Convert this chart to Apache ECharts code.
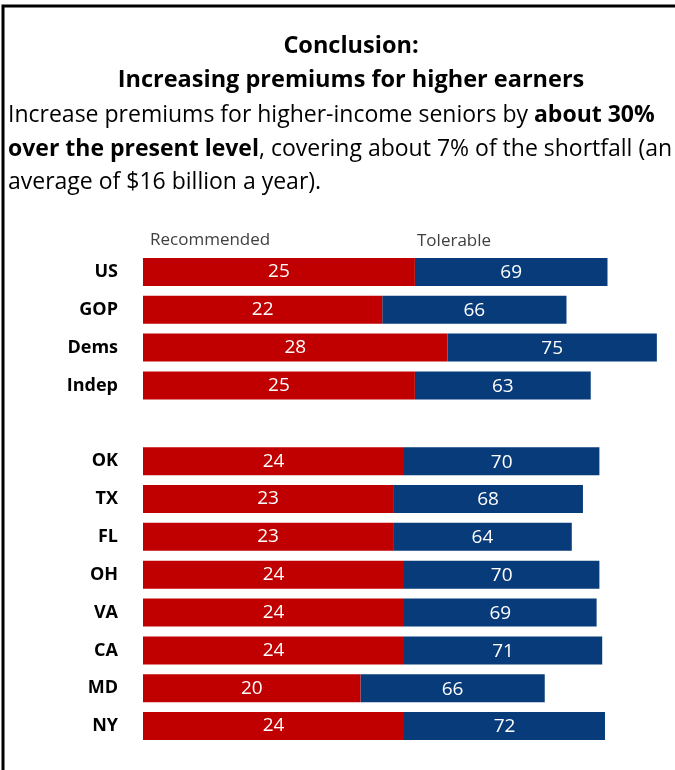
<!DOCTYPE html>
<html>
<head>
<meta charset="utf-8">
<script src="https://cdn.jsdelivr.net/npm/echarts@6/dist/echarts.min.js"></script>
<style>
  html, body { margin: 0; padding: 0; background: #fff; }
  #chart { width: 675px; height: 770px; }
</style>
</head>
<body>
<div id="chart"></div>
<script>
// Groups (blank entry separates national groups from states)
const groups = ['US', 'GOP', 'Dems', 'Indep', '', 'OK', 'TX', 'FL', 'OH', 'VA', 'CA', 'MD', 'NY'];
const recommended = [25, 22, 28, 25, null, 24, 23, 23, 24, 24, 24, 20, 24];
const tolerable   = [69, 66, 75, 63, null, 70, 68, 64, 70, 69, 71, 66, 72];

const RED = '#C00000';
const BLUE = '#073B7A';
const FONT = '"Open Sans", "Noto Sans", sans-serif';
const BAR_H = 28;

const chart = echarts.init(document.getElementById('chart'), null, { renderer: 'canvas' });

// Blue segments start where the red bar ends (xAxis 0) and run for the
// tolerable value measured on their own axis (xAxis 1).
const blueData = [];
groups.forEach((g, i) => {
  if (tolerable[i] != null) blueData.push([tolerable[i], i, recommended[i]]);
});

function renderTolerable(params, api) {
  const tol = api.value(0);
  const cat = api.value(1);
  const rec = api.value(2);
  const cy = api.coord([0, cat])[1];
  const x0 = chart.convertToPixel({ xAxisIndex: 0 }, rec);
  const len = api.size([tol, 0])[0];
  return {
    type: 'group',
    children: [
      {
        type: 'rect',
        shape: { x: x0, y: cy - BAR_H / 2, width: len, height: BAR_H },
        style: { fill: BLUE }
      },
      {
        type: 'text',
        style: {
          text: String(tol),
          x: x0 + len / 2,
          y: cy + 1,
          align: 'center',
          verticalAlign: 'middle',
          fill: '#fff',
          font: '19px ' + FONT
        }
      }
    ]
  };
}

const option = {
  animation: false,
  backgroundColor: '#fff',
  grid: { left: 143, right: 10, top: 253, height: 492, containLabel: false },
  xAxis: [
    { type: 'value', min: 0, max: 48, show: false },
    { type: 'value', min: 0, max: 187, show: false }
  ],
  yAxis: {
    type: 'category',
    data: groups,
    inverse: true,
    axisLine: { show: false },
    axisTick: { show: false },
    axisLabel: {
      margin: 25,
      color: '#000',
      fontFamily: FONT,
      fontWeight: 'bold',
      fontSize: 18
    }
  },
  series: [
    {
      type: 'bar',
      xAxisIndex: 0,
      data: recommended,
      barWidth: BAR_H,
      itemStyle: { color: RED },
      label: {
        show: true,
        position: 'inside',
        color: '#fff',
        fontFamily: FONT,
        fontSize: 19
      }
    },
    {
      type: 'custom',
      xAxisIndex: 1,
      yAxisIndex: 0,
      data: blueData,
      renderItem: renderTolerable,
      encode: { x: 0, y: 1 }
    }
  ],
  graphic: [
    {
      type: 'polyline',
      shape: { points: [[3, 770], [3, 6], [675, 6]] },
      style: { stroke: '#000', lineWidth: 3, fill: null }
    },
    {
      type: 'text',
      style: { text: 'Conclusion:', x: 351, y: 46, align: 'center', verticalAlign: 'middle',
               font: 'bold 23.5px ' + FONT, fill: '#000' }
    },
    {
      type: 'text',
      style: { text: 'Increasing premiums for higher earners', x: 351, y: 80, align: 'center',
               verticalAlign: 'middle', font: 'bold 23.5px ' + FONT, fill: '#000' }
    },
    {
      type: 'text', left: 8, top: 99,
      style: {
        text: 'Increase premiums for higher-income seniors by {b|about 30%}\n{b|over the present level}, covering about 7% of the shortfall (an\naverage of $16 billion a year).',
        font: '23px ' + FONT,
        lineHeight: 33.5,
        fill: '#000',
        rich: { b: { fontWeight: 'bold', fontSize: 23, fontFamily: FONT } }
      }
    },
    {
      type: 'text', left: 150, top: 232,
      style: { text: 'Recommended', font: '17px ' + FONT, fill: '#404040' }
    },
    {
      type: 'text', left: 417, top: 233,
      style: { text: 'Tolerable', font: '17px ' + FONT, fill: '#404040' }
    }
  ]
};

chart.setOption(option);
</script>
</body>
</html>
